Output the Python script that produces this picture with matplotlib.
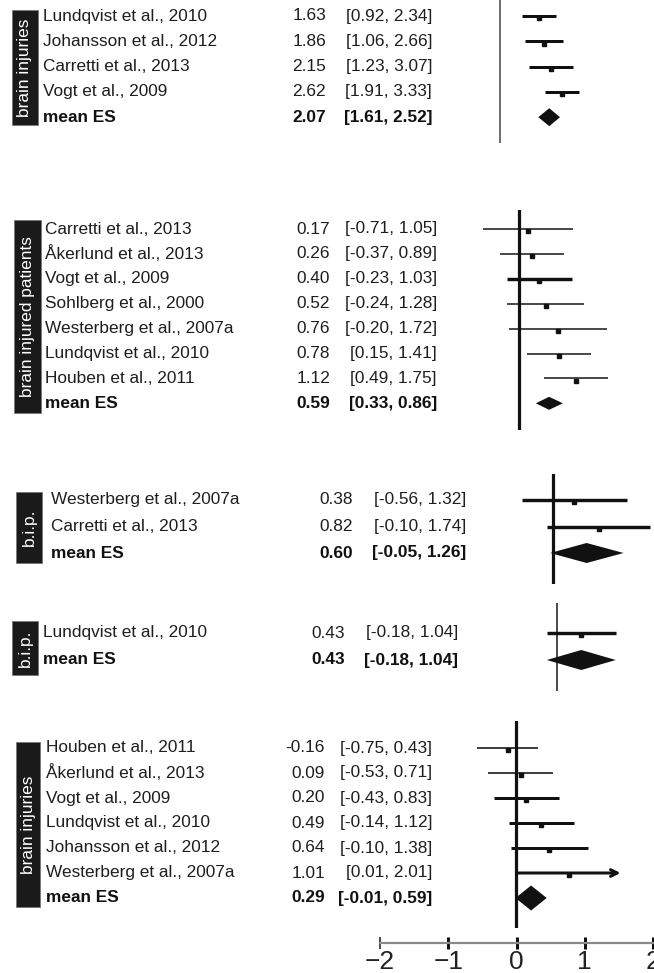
import matplotlib
matplotlib.use("Agg")
import matplotlib.pyplot as plt
from matplotlib.patches import Rectangle
import numpy as np

plt.rcParams['font.family'] = ['Liberation Sans', 'DejaVu Sans']

# ---------------- data ----------------
p1_names = ["Lundqvist et al., 2010", "Johansson et al., 2012", "Carretti et al., 2013", "Vogt et al., 2009"]
p1_es = [1.63, 1.86, 2.15, 2.62]
p1_lo = [0.92, 1.06, 1.23, 1.91]
p1_hi = [2.34, 2.66, 3.07, 3.33]
p1_mean = [2.07, 1.61, 2.52]

p2_names = ["Carretti et al., 2013", "Åkerlund et al., 2013", "Vogt et al., 2009", "Sohlberg et al., 2000",
            "Westerberg et al., 2007a", "Lundqvist et al., 2010", "Houben et al., 2011"]
p2_es = [0.17, 0.26, 0.40, 0.52, 0.76, 0.78, 1.12]
p2_lo = [-0.71, -0.37, -0.23, -0.24, -0.20, 0.15, 0.49]
p2_hi = [1.05, 0.89, 1.03, 1.28, 1.72, 1.41, 1.75]
p2_mean = [0.59, 0.33, 0.86]

p3_names = ["Westerberg et al., 2007a", "Carretti et al., 2013"]
p3_es = [0.38, 0.82]
p3_lo = [-0.56, -0.10]
p3_hi = [1.32, 1.74]
p3_mean = [0.60, -0.05, 1.26]

p4_names = ["Lundqvist et al., 2010"]
p4_es = [0.43]
p4_lo = [-0.18]
p4_hi = [1.04]
p4_mean = [0.43, -0.18, 1.04]

p5_names = ["Houben et al., 2011", "Åkerlund et al., 2013", "Vogt et al., 2009", "Lundqvist et al., 2010",
            "Johansson et al., 2012", "Westerberg et al., 2007a"]
p5_es = [-0.16, 0.09, 0.20, 0.49, 0.64, 1.01]
p5_lo = [-0.75, -0.53, -0.43, -0.14, -0.10, 0.01]
p5_hi = [0.43, 0.71, 0.83, 1.12, 1.38, 2.01]
p5_mean = [0.29, -0.01, 0.59]

group_labels = ["brain injuries", "brain injured patients", "b.i.p.", "b.i.p.", "brain injuries"]
axis_ticks = [-2, -1, 0, 1, 2]

# ---------------- layout ----------------
W, H = 654, 973
fig = plt.figure(figsize=(W / 100, H / 100), dpi=100)
TXT = '#1e1e1e'
FS = 12.4
PT = 0.72  # points per pixel

panels = [
    dict(names=p1_names, es=p1_es, lo=p1_lo, hi=p1_hi, mean=p1_mean,
         top=0, bot=143, zero=500, scale=23.8, y0=16, sp=25.3, zlw=1.5, zcol='#444',
         lws=[3.0, 3.0, 3.0, 3.0], dh=9, box=(12, 10, 38, 125),
         xname=43, xes=326, xci=432, arrow=False),
    dict(names=p2_names, es=p2_es, lo=p2_lo, hi=p2_hi, mean=p2_mean,
         top=210, bot=430, zero=519, scale=51, y0=229, sp=24.9, zlw=3.2, zcol='#111',
         lws=[1.5, 1.5, 3.4, 1.5, 1.5, 1.5, 1.5], dh=6.5, box=(14, 220, 41, 413),
         xname=45, xes=330, xci=437, arrow=False),
    dict(names=p3_names, es=p3_es, lo=p3_lo, hi=p3_hi, mean=p3_mean,
         top=474, bot=584, zero=553, scale=56, y0=500, sp=26.5, zlw=3.2, zcol='#111',
         lws=[3.4, 3.4], dh=10, box=(16, 492, 42, 563),
         xname=51, xes=353, xci=466, arrow=False),
    dict(names=p4_names, es=p4_es, lo=p4_lo, hi=p4_hi, mean=p4_mean,
         top=603, bot=691, zero=557, scale=56.5, y0=633, sp=27, zlw=1.6, zcol='#222',
         lws=[3.4], dh=10, box=(12, 621, 38, 675),
         xname=43, xes=345, xci=458, arrow=False),
    dict(names=p5_names, es=p5_es, lo=p5_lo, hi=p5_hi, mean=p5_mean,
         top=721, bot=928, zero=516, scale=52, y0=748, sp=25, zlw=3.2, zcol='#111',
         lws=[1.6, 1.6, 3.0, 3.0, 3.0, 3.0], dh=12.5, box=(16, 742, 40, 907),
         xname=46, xes=325, xci=432, arrow=True),
]

for p, glabel in zip(panels, group_labels):
    top, bot, y0, sp = p['top'], p['bot'], p['y0'], p['sp']
    ax = fig.add_axes([0, 1 - bot / H, 1, (bot - top) / H])
    ax.set_xlim((0 - p['zero']) / p['scale'], (W - p['zero']) / p['scale'])
    ax.set_ylim((bot - y0) / sp, (top - y0) / sp)
    ax.axis('off')

    # zero reference line
    ax.axvline(0, color=p['zcol'], lw=p['zlw'] * PT, zorder=1)

    n = len(p['names'])
    rows = np.arange(n)
    for i in range(n):
        lw = p['lws'][i] * PT
        if p['arrow'] and i == n - 1:
            ax.annotate('', xy=(p['hi'][i], rows[i]), xytext=(p['lo'][i], rows[i]),
                        arrowprops=dict(arrowstyle='->', lw=lw, color='#111',
                                        shrinkA=0, shrinkB=0, mutation_scale=12),
                        zorder=2)
        else:
            ax.hlines(rows[i], p['lo'][i], p['hi'][i], color='#111', lw=lw, zorder=2)
    # point estimates: small squares just under the line
    off = 2.2 / sp
    ax.plot(p['es'], rows + off, ls='none', marker='s', ms=3.6 * PT,
            color='#111', mec='#111', zorder=3)

    # mean diamond
    m, mlo, mhi = p['mean']
    r = n
    h = p['dh'] / sp
    ax.fill([mlo, m, mhi, m], [r, r - h, r, r + h], color='#111', lw=0, zorder=3)

    # texts
    tr = ax.get_yaxis_transform()
    for i in range(n):
        ax.text(p['xname'] / W, rows[i], p['names'][i], transform=tr, ha='left', va='center',
                fontsize=FS, color=TXT)
        ax.text(p['xes'] / W, rows[i], f"{p['es'][i]:.2f}", transform=tr, ha='right',
                va='center', fontsize=FS, color=TXT)
        ax.text(p['xci'] / W, rows[i], f"[{p['lo'][i]:.2f}, {p['hi'][i]:.2f}]", transform=tr,
                ha='right', va='center', fontsize=FS, color=TXT)
    ax.text(p['xname'] / W, r, "mean ES", transform=tr, ha='left', va='center',
            fontsize=FS, color='#111', fontweight='bold')
    ax.text(p['xes'] / W, r, f"{m:.2f}", transform=tr, ha='right', va='center',
            fontsize=FS, color='#111', fontweight='bold')
    ax.text(p['xci'] / W, r, f"[{mlo:.2f}, {mhi:.2f}]", transform=tr, ha='right', va='center',
            fontsize=FS, color='#111', fontweight='bold')

    # group label box
    x1, y1, x2, y2 = p['box']
    fig.add_artist(Rectangle((x1 / W, 1 - y2 / H), (x2 - x1) / W, (y2 - y1) / H,
                             transform=fig.transFigure, facecolor='#1a1a1a',
                             edgecolor='#777', lw=0.6))
    fig.text((x1 + x2) / 2 / W, 1 - (y1 + y2) / 2 / H, glabel, rotation=90,
             ha='center', va='center', color='white', fontsize=FS)

# ---------------- bottom axis ----------------
axb = fig.add_axes([380 / W, 1 - 943 / H, (653 - 380) / W, 10 / H])
axb.set_xlim(-2, 2)
axb.set_ylim(0, 1)
for s in ['top', 'left', 'right']:
    axb.spines[s].set_visible(False)
axb.spines['bottom'].set_color('#8a8a8a')
axb.spines['bottom'].set_linewidth(2.2 * PT)
axb.set_yticks([])
axb.set_xticks(axis_ticks)
axb.set_xticklabels([f"{t}".replace('-', '\u2212') for t in axis_ticks])
axb.tick_params(axis='x', direction='inout', length=12 * PT, width=3 * PT, color='#111',
                labelsize=19, pad=0.5, labelcolor='#222')
axb.xaxis.get_major_ticks()[0].tick1line.set_color('#8a8a8a')
axb.xaxis.get_major_ticks()[0].tick1line.set_markeredgewidth(1.5 * PT)
axb.patch.set_visible(False)
for lab in axb.get_xticklabels():
    lab.set_clip_on(False)

fig.savefig('out.png', dpi=100)
